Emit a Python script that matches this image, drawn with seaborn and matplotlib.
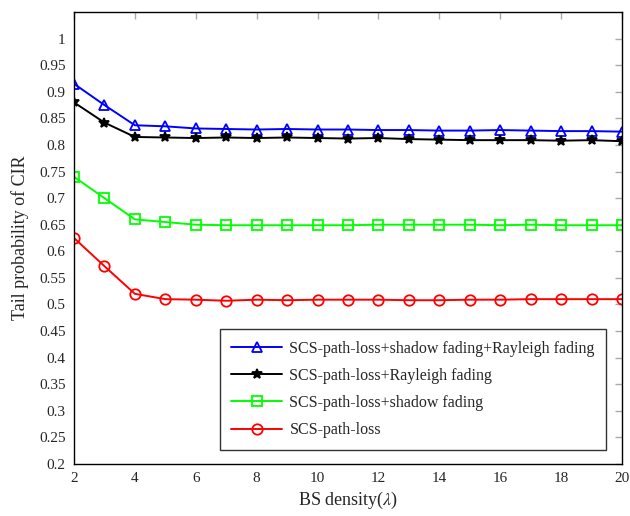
import matplotlib
matplotlib.use("Agg")
import matplotlib.pyplot as plt
import seaborn as sns
import pandas as pd

density = list(range(2, 21))
labels = [
    "SCS-path-loss+shadow fading+Rayleigh fading",
    "SCS-path-loss+Rayleigh fading",
    "SCS-path-loss+shadow fading",
    "SCS-path-loss",
]
blue = [0.915, 0.875, 0.837, 0.835, 0.831, 0.830, 0.829, 0.830, 0.829, 0.829,
        0.828, 0.828, 0.827, 0.827, 0.828, 0.827, 0.826, 0.826, 0.825]
black = [0.880, 0.842, 0.815, 0.814, 0.813, 0.814, 0.813, 0.814, 0.813, 0.812,
         0.813, 0.811, 0.810, 0.809, 0.809, 0.809, 0.808, 0.809, 0.807]
green = [0.740, 0.700, 0.660, 0.655, 0.650, 0.649, 0.649, 0.649, 0.649, 0.649,
         0.650, 0.650, 0.650, 0.650, 0.649, 0.650, 0.649, 0.649, 0.649]
red = [0.625, 0.572, 0.520, 0.510, 0.509, 0.507, 0.509, 0.508, 0.509, 0.509,
       0.509, 0.508, 0.508, 0.509, 0.509, 0.510, 0.510, 0.510, 0.510]
yticks = [0.2, 0.25, 0.3, 0.35, 0.4, 0.45, 0.5, 0.55, 0.6, 0.65, 0.7, 0.75,
          0.8, 0.85, 0.9, 0.95, 1.0]
xticks = [2, 4, 6, 8, 10, 12, 14, 16, 18, 20]

sns.set_style("white")
plt.rcParams['font.family'] = ['Liberation Serif', 'DejaVu Serif']
plt.rcParams['mathtext.fontset'] = 'stix'

fig = plt.figure(figsize=(6.3, 5.16), dpi=100)
ax = fig.add_axes([74/630, 1 - 464/516, (622-74)/630, (464-12)/516])

series = [(blue, "#0000ff", "^", 7), (black, "black", "*", 7.5),
          (green, "#00ff00", "s", 6.5), (red, "#ff0000", "o", 7.5)]
for (vals, col, mk, ms), lab in zip(series, labels):
    df = pd.DataFrame({"x": density, "y": vals})
    sns.lineplot(data=df, x="x", y="y", ax=ax, color=col, marker=mk,
                 markersize=ms, markerfacecolor="none" if mk != "*" else col,
                 markeredgecolor=col, markeredgewidth=1.3, linewidth=1.4,
                 label=lab)

ax.set_xlim(2, 20)
ax.set_ylim(0.2, 1.05)
ax.set_xticks(xticks)
ax.set_xticklabels([str(v) for v in xticks])
ax.set_yticks(yticks)
ax.set_yticklabels([("%g" % v) for v in yticks])
ax.tick_params(direction="in", length=5, width=1, color="#aaaaaa",
               top=True, right=True, labelsize=11, pad=6)
for s in ax.spines.values():
    s.set_color("black")
    s.set_linewidth(1)
ax.set_xlabel(r"BS density($\lambda$)", fontsize=13, labelpad=3)
ax.set_ylabel("Tail probability of CIR", fontsize=13, labelpad=7)

leg = ax.legend(loc="lower right", bbox_to_anchor=(0.986, 0.014), fontsize=11.5,
                frameon=True, fancybox=False, edgecolor="black",
                handlelength=3.2, handletextpad=0.45, borderpad=0.72,
                labelspacing=0.7)
leg.get_frame().set_linewidth(1)

fig.savefig("out.png", dpi=100)
